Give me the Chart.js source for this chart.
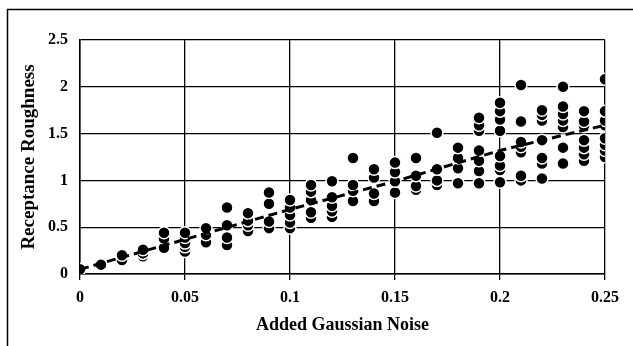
<!DOCTYPE html>
<html>
<head>
<meta charset="utf-8">
<script src="https://cdn.jsdelivr.net/npm/chart.js@4"></script>
<style>
  body { margin: 0; background: #fff; }
  canvas { display: block; }
</style>
</head>
<body>
<canvas id="graficoRugosidad" width="633" height="346"></canvas>
<script>
// Niveles de ruido (eje x) y rugosidad medida en cada nivel
const noiseLevels = [0, 0.01, 0.02, 0.03, 0.04, 0.05, 0.06, 0.07, 0.08, 0.09, 0.1, 0.11, 0.12,
    0.13, 0.14, 0.15, 0.16, 0.17, 0.18, 0.19, 0.2, 0.21, 0.22, 0.23, 0.24, 0.25];

const roughness = [
    [0.05],
    [0.10],
    [0.15, 0.20],
    [0.19, 0.22, 0.26],
    [0.28, 0.38, 0.44],
    [0.24, 0.29, 0.33, 0.39, 0.44],
    [0.34, 0.42, 0.49],
    [0.31, 0.39, 0.52, 0.71],
    [0.46, 0.52, 0.57, 0.65],
    [0.49, 0.56, 0.75, 0.87],
    [0.49, 0.55, 0.63, 0.71, 0.79],
    [0.60, 0.66, 0.79, 0.88, 0.95],
    [0.61, 0.67, 0.73, 0.82, 0.99],
    [0.78, 0.89, 0.95, 1.24],
    [0.78, 0.86, 1.03, 1.12],
    [0.87, 0.99, 1.09, 1.19],
    [0.90, 0.94, 1.05, 1.24],
    [0.95, 1.00, 1.12, 1.51],
    [0.97, 1.13, 1.24, 1.35],
    [0.97, 1.10, 1.21, 1.32, 1.53, 1.59, 1.67],
    [0.98, 1.11, 1.16, 1.26, 1.53, 1.65, 1.74, 1.83],
    [1.00, 1.05, 1.30, 1.36, 1.41, 1.63, 2.02],
    [1.02, 1.18, 1.24, 1.43, 1.64, 1.70, 1.75],
    [1.18, 1.35, 1.57, 1.64, 1.71, 1.79, 2.00],
    [1.21, 1.28, 1.35, 1.43, 1.58, 1.63, 1.74],
    [1.25, 1.32, 1.38, 1.45, 1.59, 1.64, 1.74, 2.08]
];

// Línea de tendencia
const trendX = [0, 0.05, 0.1, 0.15, 0.2, 0.25];
const trendY = [0.05, 0.37, 0.69, 0.99, 1.32, 1.59];

const xTickLabels = ['0', '0.05', '0.1', '0.15', '0.2', '0.25'];
const yTickLabels = ['0', '0.5', '1', '1.5', '2', '2.5'];

const puntos = noiseLevels.flatMap((x, i) => roughness[i].map(y => ({ x: x, y: y })));
const tendencia = trendX.map((x, i) => ({ x: x, y: trendY[i] }));

const serif = '"Liberation Serif", "Times New Roman", serif';
const fuenteTicks = { family: serif, size: 16, weight: 'bold' };

// Marco exterior alrededor de toda la figura
const marco = {
    id: 'marco',
    beforeDraw(chart) {
    const c = chart.ctx;
    c.save();
    c.fillStyle = '#fff';
    c.fillRect(0, 0, chart.width, chart.height);
    c.strokeStyle = '#000';
    c.lineWidth = 1.5;
    c.strokeRect(7.5, 9.5, chart.width + 10, chart.height + 10);
    c.restore();
    }
};

const ctx = document.getElementById('graficoRugosidad').getContext('2d');

new Chart(ctx, {
    type: 'scatter',
    data: {
    datasets: [
        {
        type: 'line',
        data: tendencia,
        borderColor: '#000',
        borderWidth: 3,
        borderDash: [9, 5],
        pointRadius: 0,
        fill: false,
        tension: 0
        },
        {
        data: puntos,
        backgroundColor: '#000',
        borderColor: '#fff',
        borderWidth: 1.5,
        pointRadius: 6
        }
    ]
    },
    options: {
    responsive: false,
    animation: false,
    layout: { padding: { top: 40, right: 28, left: 0, bottom: 0 } },
    plugins: {
        legend: { display: false },
        tooltip: { enabled: false }
    },
    scales: {
        x: {
        type: 'linear',
        min: 0,
        max: 0.25,
        afterFit: (scale) => { scale.height = 72; },
        ticks: {
            stepSize: 0.05,
            color: '#000',
            font: fuenteTicks,
            padding: 8,
            maxRotation: 0,
            callback: (v, i) => xTickLabels[i]
        },
        grid: { color: '#000', lineWidth: 1.3, tickLength: 6, tickColor: '#000' },
        border: { color: '#000', width: 1.5 },
        title: {
            display: true,
            text: 'Added Gaussian Noise',
            color: '#000',
            font: { family: serif, size: 18, weight: 'bold' },
            padding: { top: 0, bottom: 10 }
        }
        },
        y: {
        min: 0,
        max: 2.5,
        afterFit: (scale) => { scale.width = 80; },
        ticks: {
            stepSize: 0.5,
            color: '#000',
            font: fuenteTicks,
            padding: 12,
            callback: (v, i) => yTickLabels[i]
        },
        grid: { color: '#000', lineWidth: 1.3, drawTicks: false },
        border: { color: '#000', width: 1.5 },
        title: {
            display: true,
            text: 'Receptance Roughness',
            color: '#000',
            font: { family: serif, size: 19, weight: 'bold' },
            padding: { top: 18, bottom: 0 }
        }
        }
    }
    },
    plugins: [marco]
});
</script>
</body>
</html>
